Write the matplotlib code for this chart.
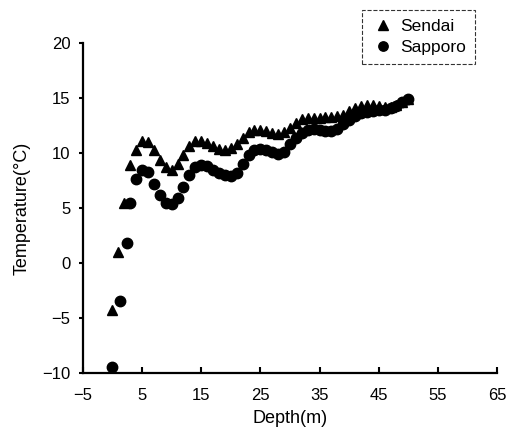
import matplotlib
matplotlib.use('Agg')
import matplotlib.pyplot as plt
import numpy as np

plt.rcParams['font.family'] = ['Liberation Sans', 'DejaVu Sans']

# Sendai profile
sendai_depth = [0, 1, 2, 3, 4, 5, 6, 7, 8, 9, 10, 11, 12, 13, 14, 15, 16, 17, 18, 19,
                20, 21, 22, 23, 24, 25, 26, 27, 28, 29, 30, 31, 32, 33, 34, 35, 36, 37, 38, 39,
                40, 41, 42, 43, 44, 45, 46, 47, 48, 49, 50]
sendai_temp = [-4.3, 1.0, 5.5, 8.9, 10.3, 11.1, 11.0, 10.3, 9.4, 8.7, 8.5, 9.0, 9.8, 10.6, 11.1, 11.1,
               10.9, 10.6, 10.4, 10.3, 10.5, 10.8, 11.4, 11.9, 12.1, 12.1, 12.0, 11.8, 11.7, 11.9,
               12.3, 12.7, 13.1, 13.2, 13.2, 13.2, 13.3, 13.3, 13.4, 13.5, 13.8, 14.1, 14.3, 14.4,
               14.4, 14.3, 14.2, 14.2, 14.4, 14.6, 14.9]

# Sapporo profile
sapporo_depth = [0, 1.3, 2.4, 3, 4, 5, 6, 7, 8, 9, 10, 11, 12, 13, 14, 15, 16, 17, 18, 19,
                 20, 21, 22, 23, 24, 25, 26, 27, 28, 29, 30, 31, 32, 33, 34, 35, 36, 37, 38, 39,
                 40, 41, 42, 43, 44, 45, 46, 47, 48, 49, 50]
sapporo_temp = [-9.4, -3.4, 1.8, 5.5, 7.6, 8.5, 8.3, 7.2, 6.2, 5.5, 5.4, 5.9, 6.9, 8.0, 8.7, 8.9,
                8.8, 8.5, 8.2, 8.0, 7.9, 8.2, 9.0, 9.8, 10.3, 10.4, 10.3, 10.1, 9.9, 10.1,
                10.8, 11.4, 11.8, 12.1, 12.2, 12.1, 12.0, 12.0, 12.2, 12.6, 13.0, 13.4, 13.6, 13.7,
                13.8, 13.9, 13.9, 14.1, 14.3, 14.6, 14.9]

fig = plt.figure(figsize=(5.21, 4.48), dpi=100)
ax = fig.add_axes([0.159, 0.167, 0.795, 0.737])

ax.plot(sendai_depth, sendai_temp, '^', color='black', ms=7.5, label='Sendai')
ax.plot(sapporo_depth, sapporo_temp, 'o', color='black', ms=7.5, label='Sapporo')

ax.set_xlim(-5, 65)
ax.set_ylim(-10, 20)
ax.set_xticks(np.arange(-5, 66, 10))
ax.set_yticks(np.arange(-10, 21, 5))
ax.spines['top'].set_visible(False)
ax.spines['right'].set_visible(False)
ax.spines['left'].set_linewidth(1.6)
ax.spines['bottom'].set_linewidth(1.6)
ax.tick_params(axis='x', direction='in', length=4, width=1.5, pad=11)
ax.tick_params(axis='y', direction='out', length=3, width=1.5, pad=6)
for lbl in ax.get_xticklabels() + ax.get_yticklabels():
    lbl.set_family(['Liberation Sans Narrow', 'Liberation Sans'])
    lbl.set_fontsize(12)
ax.set_xlabel('Depth(m)', fontsize=13, labelpad=5)
ax.set_ylabel('Temperature(\u00b0C)', fontsize=13, labelpad=8)

leg = fig.legend(loc='upper left', bbox_to_anchor=(0.695, 0.977), fontsize=12.5,
                 frameon=True, fancybox=False, handletextpad=0.3, handlelength=1.4,
                 borderpad=0.5, labelspacing=0.35, markerscale=0.9, borderaxespad=0)
leg.get_frame().set_edgecolor('black')
leg.get_frame().set_linestyle('--')
leg.get_frame().set_linewidth(0.8)

plt.savefig('out.png', dpi=100)
